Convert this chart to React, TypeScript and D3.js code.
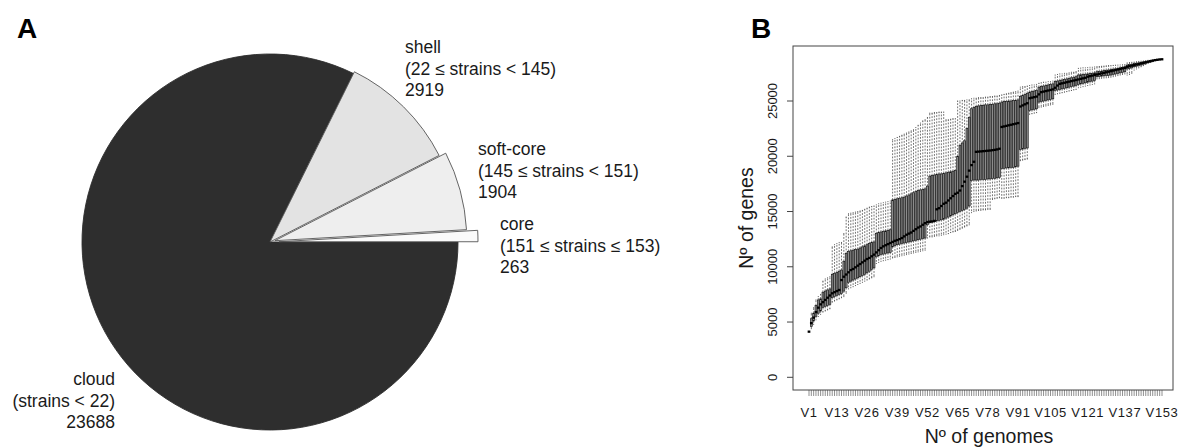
import React from 'react';
import * as d3 from 'd3';

// ---------- Panel A data ----------
const pieNames = ['core', 'soft-core', 'shell', 'cloud'];
const pieRanges = ['(151 ≤ strains ≤ 153)', '(145 ≤ strains < 151)', '(22 ≤ strains < 145)', '(strains < 22)'];
const pieValues = [263, 1904, 2919, 23688];

// ---------- Panel B data (153 genomes) ----------
const tickLabels = ['V1', 'V13', 'V26', 'V39', 'V52', 'V65', 'V78', 'V91', 'V105', 'V121', 'V137', 'V153'];
const yTicks = [0, 5000, 10000, 15000, 20000, 25000];

const medianGenes = [
  4130, 4900, 5400, 5900, 6300, 6600, 6800, 7000, 7200, 7400,
  7600, 7700, 7800, 7900, 8800, 9100, 9300, 9500, 9700, 9800,
  9950, 10100, 10250, 10400, 10550, 10700, 10800, 10950, 11100, 11300,
  11500, 11700, 11850, 11950, 12050, 12150, 12250, 12350, 12420, 12500,
  12600, 12750, 12900, 13000, 13100, 13250, 13400, 13550, 13650, 13800,
  13950, 14050, 14080, 14100, 14150, 15200, 15300, 15500, 15700, 15800,
  16000, 16200, 16400, 16600, 16700, 16900, 17300, 17700, 18150, 18700,
  19200, 19500, 20400, 20420, 20440, 20460, 20480, 20500, 20520, 20550,
  20580, 20620, 20680, 22650, 22700, 22750, 22800, 22850, 22900, 22950,
  23000, 24500, 24600, 24700, 24800, 25250, 25300, 25350, 25400, 25600,
  25800, 25850, 25900, 25950, 26000, 26050, 26200, 26400, 26550, 26600,
  26650, 26700, 26750, 26800, 26850, 26900, 26950, 27000, 27050, 27100,
  27200, 27250, 27300, 27350, 27400, 27450, 27500, 27550, 27600, 27650,
  27700, 27750, 27800, 27850, 27900, 27950, 28000, 28100, 28150, 28200,
  28250, 28300, 28350, 28400, 28450, 28500, 28550, 28600, 28650, 28700,
  28730, 28760, 28774,
];
const lowerWhisker = [
  4130, 4400, 4800, 5200, 5500, 5700, 5900, 6000, 6100, 6200,
  6800, 6900, 7000, 7100, 7200, 7300, 7600, 8000, 8100, 8200,
  8300, 8400, 8500, 8600, 8700, 8800, 8900, 9000, 9100, 10300,
  10400, 10500, 10550, 10600, 10650, 10700, 10800, 10850, 10900, 10950,
  11000, 11050, 11100, 11150, 11200, 11250, 11300, 11350, 11400, 11450,
  11500, 12600, 12700, 12700, 12750, 12800, 12800, 12850, 12900, 12950,
  13000, 13100, 13150, 13200, 13300, 13400, 13500, 13600, 13700, 13800,
  14900, 15000, 15050, 15100, 15100, 15150, 15150, 15200, 15200, 16100,
  16150, 16200, 16250, 16200, 16200, 16250, 16250, 16300, 16300, 16350,
  16350, 19600, 19650, 19700, 19750, 23800, 23850, 23900, 23950, 24400,
  24450, 24500, 24550, 24600, 24650, 24700, 25600, 25650, 25700, 25750,
  25800, 25850, 25900, 25950, 26000, 26050, 26200, 26250, 26300, 26350,
  26400, 26450, 26500, 26550, 27000, 27020, 27050, 27080, 27100, 27120,
  27150, 27200, 27250, 27300, 27350, 27400, 27450, 27350, 27400, 27500,
  27800, 27900, 28000, 28100, 28200, 28300, 28400, 28480, 28550, 28620,
  28680, 28730, 28774,
];
const lowerQuartile = [
  4130, 4600, 5100, 5500, 5800, 6000, 6300, 6400, 6500, 6600,
  7200, 7300, 7400, 7500, 7600, 7800, 8100, 8600, 8700, 8800,
  8900, 9000, 9100, 9200, 9300, 9450, 9600, 9750, 9900, 10900,
  11000, 11100, 11150, 11200, 11250, 11300, 11800, 11900, 12000, 12050,
  12100, 12150, 12200, 12250, 12300, 12350, 12400, 12450, 12500, 12550,
  12600, 13800, 14000, 14050, 14100, 14150, 14200, 14250, 14300, 14400,
  14500, 14600, 14700, 14800, 14900, 15000, 15100, 15200, 15300, 15500,
  17800, 17850, 17850, 17850, 17900, 17900, 17900, 17950, 17950, 18000,
  18000, 18050, 18100, 18900, 18900, 18950, 18950, 19000, 19000, 19050,
  19100, 20600, 20650, 20700, 20750, 24150, 24200, 24250, 24300, 24900,
  24950, 25000, 25050, 25100, 25150, 25200, 25950, 26000, 26050, 26100,
  26150, 26200, 26250, 26300, 26350, 26400, 26500, 26550, 26600, 26650,
  26700, 26750, 26800, 26850, 27200, 27220, 27250, 27280, 27300, 27320,
  27350, 27400, 27450, 27500, 27550, 27600, 27650, 27900, 27950, 28000,
  28100, 28150, 28200, 28250, 28330, 28400, 28470, 28540, 28600, 28660,
  28700, 28745, 28774,
];
const upperQuartile = [
  4130, 5300, 5800, 6500, 7000, 7100, 7700, 7800, 7900, 8000,
  9300, 9400, 9500, 9600, 9700, 10500, 11200, 11400, 11450, 11500,
  11550, 11600, 11700, 11800, 11900, 12000, 12100, 12200, 12250, 13000,
  13100, 13150, 13200, 13250, 13300, 13350, 16050, 16100, 16150, 16200,
  16250, 16300, 16400, 16500, 16600, 16700, 16800, 16900, 16950, 17000,
  17050, 17300, 18200, 18250, 18300, 18350, 18400, 18400, 18450, 18500,
  18550, 18600, 18650, 18700, 20000, 21000, 21200, 21400, 22500, 23500,
  24300, 24400, 24500, 24550, 24600, 24600, 24650, 24650, 24700, 24700,
  24750, 24750, 24800, 24900, 24950, 24950, 25000, 25000, 25050, 25050,
  25100, 25400, 25500, 25600, 25700, 25800, 25850, 25900, 25950, 26250,
  26300, 26350, 26400, 26450, 26500, 26550, 26750, 26800, 26850, 26900,
  26950, 27000, 27050, 27100, 27150, 27200, 27350, 27380, 27400, 27420,
  27450, 27480, 27500, 27550, 27650, 27680, 27700, 27750, 27780, 27800,
  27850, 27880, 27900, 27950, 28000, 28050, 28100, 28250, 28300, 28330,
  28380, 28420, 28450, 28500, 28530, 28570, 28610, 28650, 28690, 28720,
  28745, 28765, 28774,
];
const upperWhisker = [
  4130, 5800, 6300, 7000, 7300, 7500, 8700, 8900, 9000, 9100,
  11800, 12000, 12100, 12200, 12200, 13000, 14500, 14800, 14850, 14900,
  14950, 15000, 15050, 15100, 15200, 15300, 15400, 15450, 15500, 15600,
  15700, 15750, 15800, 15850, 15900, 15950, 21500, 21600, 21700, 21800,
  21900, 22000, 22100, 22200, 22300, 22400, 22600, 22800, 23000, 23200,
  23300, 23500, 23900, 23900, 23950, 23950, 24000, 24000, 24000, 23300,
  23300, 23350, 23400, 23400, 25000, 25000, 25050, 25050, 25100, 25100,
  25200, 25250, 25250, 25300, 25300, 25300, 25350, 25350, 25400, 25400,
  25450, 25450, 25500, 25550, 25600, 25650, 25700, 25750, 25800, 25850,
  25900, 26250, 26300, 26300, 26350, 26400, 26450, 26450, 26500, 26600,
  26650, 26700, 26700, 26750, 26750, 26800, 27350, 27400, 27450, 27450,
  27500, 27500, 27550, 27600, 27600, 27650, 27950, 27980, 28000, 28000,
  28020, 28050, 28050, 28080, 28100, 28120, 28140, 28160, 28180, 28200,
  28200, 28220, 28240, 28250, 28260, 28280, 28300, 28450, 28480, 28500,
  28520, 28550, 28580, 28600, 28620, 28650, 28680, 28700, 28720, 28740,
  28760, 28770, 28774,
];

const genomeIds = medianGenes.map((_, i) => 'V' + (i + 1));

// ---------- styles ----------
const pieFill = ['#fafafa', '#eeeeee', '#e3e3e3', '#2e2e2e'];
const pieStroke = ['#555', '#555', '#555', '#2e2e2e'];
const pieRadius = [199, 192, 190, 188];
const pieOffset = [9, 5, 0, 0];
const FONT = "'Liberation Sans', Arial, Helvetica, sans-serif";
const TXT = '#1a1a1a';

function PieA() {
  const cx = 270, cy = 242;
  const pie = d3.pie<number>().sort(null).startAngle(0).endAngle(2 * Math.PI);
  const arcs = pie(pieValues);
  const labelPos = [
    { x: 500, y: 230, anchor: 'start' },
    { x: 478, y: 155, anchor: 'start' },
    { x: 405, y: 53, anchor: 'start' },
    { x: 115, y: 385, anchor: 'end' },
  ];
  const lh = 21.5;
  // draw cloud first so exploded light slices sit on top
  const order = [3, 2, 1, 0];
  return (
    <g>
      {order.map(i => {
        const a = arcs[i];
        // R style: counter-clockwise from 3 o'clock -> convert to d3 angles
        const s = Math.PI / 2 - a.endAngle;
        const e = Math.PI / 2 - a.startAngle;
        const mid = (a.startAngle + a.endAngle) / 2;
        const dx = pieOffset[i] * Math.cos(mid);
        const dy = -pieOffset[i] * Math.sin(mid);
        const path = d3.arc()({ innerRadius: 0, outerRadius: pieRadius[i], startAngle: s, endAngle: e } as any) || '';
        return (
          <path key={i} d={path} transform={`translate(${cx + dx},${cy + dy})`}
            fill={pieFill[i]} stroke={pieStroke[i]} strokeWidth={0.9} strokeLinejoin="miter" />
        );
      })}
      {pieNames.map((n, i) => (
        <text key={n} x={labelPos[i].x} y={labelPos[i].y} fontFamily={FONT} fontSize={17.5}
          fill={TXT} textAnchor={labelPos[i].anchor as any}>
          <tspan x={labelPos[i].x} y={labelPos[i].y}>{n}</tspan>
          <tspan x={labelPos[i].x} y={labelPos[i].y + lh}>{pieRanges[i]}</tspan>
          <tspan x={labelPos[i].x} y={labelPos[i].y + 2 * lh}>{pieValues[i]}</tspan>
        </text>
      ))}
    </g>
  );
}

function PanelB() {
  const left = 793, right = 1173, top = 46, bottom = 390;
  const x = d3.scalePoint<string>().domain(genomeIds).range([809, 1162]);
  const y = d3.scaleLinear().domain([0, 25000]).range([377.3, 101]);
  const step = x.step();
  const bw = step * 0.8;
  const sw = bw * 0.5;
  return (
    <g>
      {/* whiskers */}
      {genomeIds.map((g, i) => {
        const cxp = x(g)!;
        return (
          <g key={'w' + g}>
            <line x1={cxp} x2={cxp} y1={y(upperQuartile[i])} y2={y(upperWhisker[i])}
              stroke="#444" strokeWidth={0.75} strokeDasharray="1.8 1.4" />
            <line x1={cxp} x2={cxp} y1={y(lowerQuartile[i])} y2={y(lowerWhisker[i])}
              stroke="#444" strokeWidth={0.75} strokeDasharray="1.8 1.4" />
            <line x1={cxp - sw / 2} x2={cxp + sw / 2} y1={y(upperWhisker[i])} y2={y(upperWhisker[i])}
              stroke="#333" strokeWidth={0.8} />
            <line x1={cxp - sw / 2} x2={cxp + sw / 2} y1={y(lowerWhisker[i])} y2={y(lowerWhisker[i])}
              stroke="#333" strokeWidth={0.8} />
          </g>
        );
      })}
      {/* boxes */}
      {genomeIds.map((g, i) => {
        const cxp = x(g)!;
        const y0 = y(upperQuartile[i]);
        const y1 = y(lowerQuartile[i]);
        return (
          <rect key={'b' + g} x={cxp - bw / 2} y={y0} width={bw} height={Math.max(0, y1 - y0)}
            fill="#8c8c8c" stroke="#111" strokeWidth={0.65} />
        );
      })}
      {/* medians */}
      {genomeIds.map((g, i) => {
        const cxp = x(g)!;
        return (
          <line key={'m' + g} x1={cxp - step / 2 - 0.2} x2={cxp + step / 2 + 0.2}
            y1={y(medianGenes[i])} y2={y(medianGenes[i])} stroke="#000" strokeWidth={2.3} />
        );
      })}
      {/* frame */}
      <rect x={left} y={top} width={right - left} height={bottom - top} fill="none" stroke="#444" strokeWidth={1} />
      {/* y axis */}
      {yTicks.map(t => (
        <g key={'yt' + t}>
          <line x1={787} x2={left} y1={y(t)} y2={y(t)} stroke="#444" strokeWidth={1} />
          <text transform={`translate(777,${y(t)}) rotate(-90)`} textAnchor="middle" fontFamily={FONT}
            fontSize={13} fill={TXT}>{t}</text>
        </g>
      ))}
      {/* x axis */}
      {genomeIds.map(g => (
        <line key={'xt' + g} x1={x(g)!} x2={x(g)!} y1={bottom} y2={bottom + 6} stroke="#444" strokeWidth={0.6} />
      ))}
      {tickLabels.map(l => (
        <text key={'xl' + l} x={x(l)!} y={417} textAnchor="middle" fontFamily={FONT} fontSize={13}
          fill={TXT} letterSpacing={0.6}>{l}</text>
      ))}
      <text x={(left + right) / 2 + 6} y={443} textAnchor="middle" fontFamily={FONT} fontSize={19.5} fill={TXT}>Nº of genomes</text>
      <text transform={`translate(753,${(top + bottom) / 2}) rotate(-90)`} textAnchor="middle" fontFamily={FONT}
        fontSize={19.5} fill={TXT}>Nº of genes</text>
    </g>
  );
}

export default function App() {
  return (
    <svg width={1182} height={448} viewBox="0 0 1182 448"
      style={{ position: 'absolute', left: 0, top: 0, background: '#fff' }}>
      <rect x={0} y={0} width={1182} height={448} fill="#fff" />
      <text x={17} y={38} fontFamily={FONT} fontWeight="bold" fontSize={28} fill="#000">A</text>
      <text x={751} y={38} fontFamily={FONT} fontWeight="bold" fontSize={28} fill="#000">B</text>
      <PieA />
      <PanelB />
    </svg>
  );
}
